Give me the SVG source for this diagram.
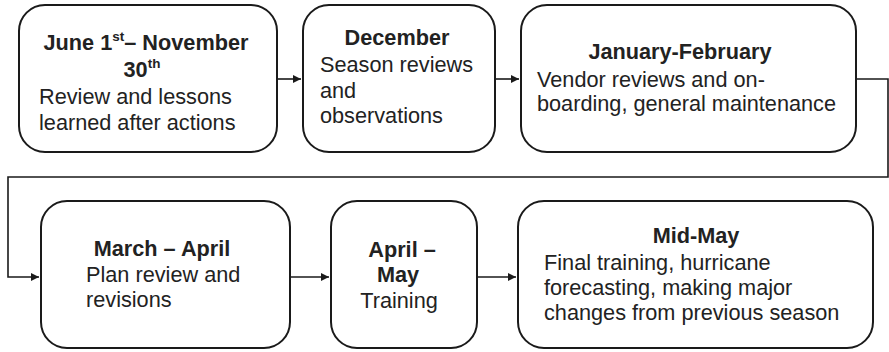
<svg xmlns="http://www.w3.org/2000/svg" width="889" height="352" viewBox="0 0 889 352">
  <style>
    .box { fill: #ffffff; stroke: #1a1a1a; stroke-width: 2; }
    .wire { fill: none; stroke: #1a1a1a; stroke-width: 1.6; }
    text { font-family: "Liberation Sans", Arial, sans-serif; font-size: 21.7px; fill: #222222; }
    .t { font-weight: bold; text-anchor: middle; }
    .c { text-anchor: middle; }
    .sup { font-size: 13.5px; font-weight: bold; }
  </style>
  <defs>
    <marker id="arrow" viewBox="0 0 10 10" refX="10" refY="5" markerWidth="8" markerHeight="8" markerUnits="userSpaceOnUse" orient="auto">
      <path d="M0,0 L10,5 L0,10 z" fill="#1a1a1a"/>
    </marker>
  </defs>

  <rect width="889" height="352" fill="#ffffff"/>

  <!-- connectors -->
  <g id="connectors">
    <line class="wire" x1="277" y1="79" x2="301" y2="79" marker-end="url(#arrow)"/>
    <line class="wire" x1="495" y1="79" x2="519" y2="79" marker-end="url(#arrow)"/>
    <polyline class="wire" points="856,79 888,79 888,177 8,177 8,277 39,277" marker-end="url(#arrow)"/>
    <line class="wire" x1="290" y1="277" x2="329" y2="277" marker-end="url(#arrow)"/>
    <line class="wire" x1="477" y1="277" x2="516" y2="277" marker-end="url(#arrow)"/>
  </g>

  <!-- June 1st – November 30th -->
  <g id="node-june-november">
    <rect class="box" x="19" y="5" width="258" height="147" rx="26"/>
    <text class="t" x="146" y="50">June 1<tspan class="sup" dy="-9">st</tspan><tspan dy="9">– November</tspan></text>
    <text class="t" x="142" y="77">30<tspan class="sup" dy="-9">th</tspan></text>
    <text x="39" y="104">Review and lessons</text>
    <text x="39" y="130">learned after actions</text>
  </g>

  <!-- December -->
  <g id="node-december">
    <rect class="box" x="303" y="5" width="192" height="147" rx="26"/>
    <text class="t" x="397" y="45">December</text>
    <text x="320" y="72">Season reviews</text>
    <text x="320" y="98">and</text>
    <text x="320" y="123">observations</text>
  </g>

  <!-- January-February -->
  <g id="node-january-february">
    <rect class="box" x="521" y="5" width="335" height="147" rx="26"/>
    <text class="t" x="680" y="59">January-February</text>
    <text x="537" y="87">Vendor reviews and on-</text>
    <text x="537" y="111">boarding, general maintenance</text>
  </g>

  <!-- March – April -->
  <g id="node-march-april">
    <rect class="box" x="41" y="201" width="249" height="147" rx="26"/>
    <text class="t" x="162" y="256">March – April</text>
    <text x="86" y="282">Plan review and</text>
    <text x="86" y="307">revisions</text>
  </g>

  <!-- April – May -->
  <g id="node-april-may">
    <rect class="box" x="331" y="201" width="146" height="147" rx="26"/>
    <text class="t" x="402" y="257">April –</text>
    <text class="t" x="398" y="282">May</text>
    <text class="c" x="399" y="308">Training</text>
  </g>

  <!-- Mid-May -->
  <g id="node-mid-may">
    <rect class="box" x="518" y="201" width="355" height="147" rx="26"/>
    <text class="t" x="696" y="243">Mid-May</text>
    <text x="544" y="270">Final training, hurricane</text>
    <text x="544" y="295">forecasting, making major</text>
    <text x="544" y="320">changes from previous season</text>
  </g>
</svg>
